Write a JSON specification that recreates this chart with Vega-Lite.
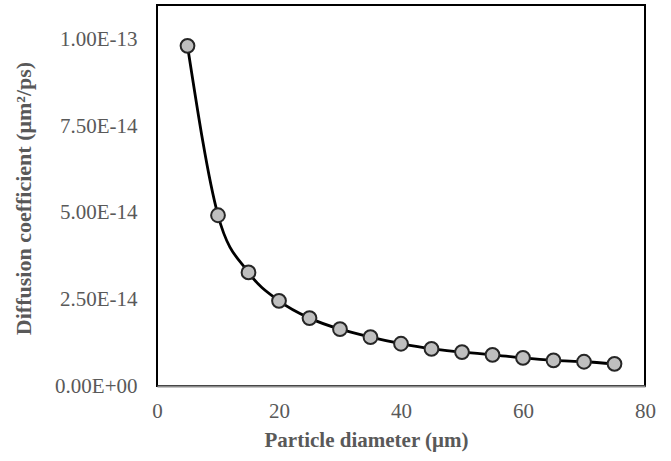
{
  "$schema": "https://vega.github.io/schema/vega-lite/v6.json",
  "width": 488,
  "height": 381,
  "autosize": {"type": "none"},
  "padding": {"left": 157, "top": 5, "right": 26, "bottom": 75},
  "background": "white",
  "config": {
    "view": {"stroke": "#000000", "strokeWidth": 2},
    "font": "Liberation Serif"
  },
  "data": {
    "values": [
      {"d": 5, "D": 9.82e-14},
      {"d": 10, "D": 4.93e-14},
      {"d": 15, "D": 3.28e-14},
      {"d": 20, "D": 2.46e-14},
      {"d": 25, "D": 1.96e-14},
      {"d": 30, "D": 1.64e-14},
      {"d": 35, "D": 1.41e-14},
      {"d": 40, "D": 1.22e-14},
      {"d": 45, "D": 1.07e-14},
      {"d": 50, "D": 0.98e-14},
      {"d": 55, "D": 0.9e-14},
      {"d": 60, "D": 0.81e-14},
      {"d": 65, "D": 0.74e-14},
      {"d": 70, "D": 0.7e-14},
      {"d": 75, "D": 0.64e-14}
    ]
  },
  "encoding": {
    "x": {
      "field": "d",
      "type": "quantitative",
      "scale": {"domain": [0, 80], "nice": false},
      "axis": {
        "values": [0, 20, 40, 60, 80],
        "grid": false,
        "ticks": false,
        "domainColor": "#8c8c8c",
        "domainWidth": 2,
        "labelFont": "Liberation Serif",
        "labelFontSize": 21,
        "labelColor": "#595959",
        "labelPadding": 14,
        "labelFlush": false,
        "title": "Particle diameter (μm)",
        "titleFont": "Liberation Serif",
        "titleFontSize": 21,
        "titleFontWeight": "bold",
        "titleColor": "#595959",
        "titleX": 209,
        "titleY": 54,
        "titleAlign": "center",
        "titleBaseline": "middle"
      }
    },
    "y": {
      "field": "D",
      "type": "quantitative",
      "scale": {"domain": [0, 1.1e-13], "nice": false},
      "axis": {
        "values": [0, 2.5e-14, 5e-14, 7.5e-14, 1e-13],
        "labelExpr": "datum.value == 0 ? '0.00E+00' : upper(format(datum.value, '.2e'))",
        "grid": false,
        "ticks": false,
        "domain": false,
        "labelFont": "Liberation Serif",
        "labelFontSize": 21,
        "labelColor": "#595959",
        "labelPadding": 20,
        "title": "Diffusion coefficient (μm²/ps)",
        "titleFont": "Liberation Serif",
        "titleFontSize": 22,
        "titleFontWeight": "bold",
        "titleColor": "#595959",
        "titleX": -134,
        "titleY": 193,
        "titleAngle": -90,
        "titleAlign": "center",
        "titleBaseline": "middle"
      }
    }
  },
  "layer": [
    {
      "mark": {"type": "line", "interpolate": "monotone", "color": "#000000", "strokeWidth": 2.8}
    },
    {
      "mark": {"type": "point", "shape": "circle", "filled": true, "fill": "#bfbfbf", "stroke": "#262626", "strokeWidth": 2, "size": 190, "opacity": 1}
    }
  ]
}
